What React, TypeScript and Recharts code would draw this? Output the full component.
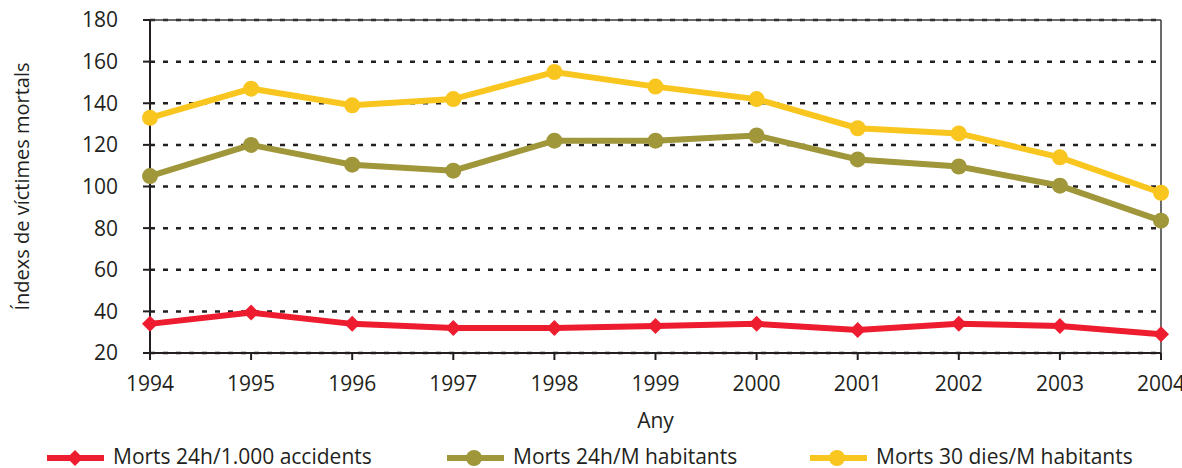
import { LineChart, Line, XAxis, YAxis, CartesianGrid, ReferenceLine, Legend } from 'recharts';

const years = ['1994', '1995', '1996', '1997', '1998', '1999', '2000', '2001', '2002', '2003', '2004'];
const deathsPerAccidents = [34, 39.4, 34, 32, 32, 33, 34, 31, 34, 33, 29];
const deaths24hPerMillion = [105, 120, 110.5, 107.6, 122, 122, 124.5, 113, 109.6, 100.4, 83.6];
const deaths30dPerMillion = [133, 147, 139, 142, 155, 148, 142, 128, 125.5, 114, 97];
const yTicks = [20, 40, 60, 80, 100, 120, 140, 160, 180];

const data = years.map((year, i) => ({
  year,
  accidents: deathsPerAccidents[i],
  habitants24: deaths24hPerMillion[i],
  habitants30: deaths30dPerMillion[i],
}));

const RED = '#ED1C2E';
const OLIVE = '#A0963A';
const YELLOW = '#F9C61F';
const INK = '#231F20';
const FONT = '"Open Sans", sans-serif';
const FS = 21;

const Diamond = (props: any) => {
  const { cx, cy, index, fill } = props;
  const s = 8;
  return (
    <path
      key={`d-${index}`}
      d={`M${cx},${cy - s} L${cx + s},${cy} L${cx},${cy + s} L${cx - s},${cy} Z`}
      fill={fill || RED}
    />
  );
};

const legendItems = [
  { label: 'Morts 24h/1.000 accidents', color: RED, shape: 'diamond', left: 47 },
  { label: 'Morts 24h/M habitants', color: OLIVE, shape: 'circle', left: 447 },
  { label: 'Morts 30 dies/M habitants', color: YELLOW, shape: 'circle', left: 810 },
];

// legend box runs from y=444 to the bottom edge of the picture
function ChartLegend() {
  return (
    <div style={{ position: 'relative', width: 1182, height: 24 }}>
      {legendItems.map((it) => (
        <div key={it.label} style={{ position: 'absolute', left: it.left, top: 0, height: 24 }}>
          <svg width={58} height={24} style={{ position: 'absolute', left: 0, top: 2 }}>
            <line x1={0} y1={12} x2={57} y2={12} stroke={it.color} strokeWidth={6} />
            {it.shape === 'diamond' ? (
              <path d="M28,4 L36,12 L28,20 L20,12 Z" fill={it.color} />
            ) : (
              <circle cx={27} cy={12} r={8} fill={it.color} />
            )}
          </svg>
          <span
            style={{
              position: 'absolute',
              left: 66,
              top: 0,
              fontFamily: FONT,
              fontSize: FS,
              lineHeight: '24px',
              color: INK,
              whiteSpace: 'nowrap',
            }}
          >
            {it.label}
          </span>
        </div>
      ))}
    </div>
  );
}

export default function App() {
  return (
    <div style={{ position: 'absolute', left: 0, top: 0, width: 1182, height: 468, background: '#fff' }}>
      <LineChart width={1182} height={468} data={data} margin={{ top: 20, right: 21, left: 0, bottom: 0 }}>
        <CartesianGrid vertical={false} stroke={INK} strokeWidth={2.5} strokeDasharray="5 8" />
        <XAxis
          dataKey="year"
          height={91}
          tickSize={7}
          tickMargin={16}
          tick={{ fill: INK, fontSize: FS, fontFamily: FONT }}
          axisLine={{ stroke: INK, strokeWidth: 2 }}
          tickLine={{ stroke: INK, strokeWidth: 2 }}
          label={{ value: 'Any', position: 'insideBottom', offset: 16, fill: INK, fontSize: FS, fontFamily: FONT }}
        />
        <YAxis
          width={150}
          domain={[20, 180]}
          ticks={yTicks}
          interval={0}
          tickSize={7}
          tickMargin={25}
          tick={{ fill: INK, fontSize: FS, fontFamily: FONT }}
          axisLine={{ stroke: INK, strokeWidth: 2 }}
          tickLine={{ stroke: INK, strokeWidth: 2 }}
          label={{
            value: 'Índexs de víctimes mortals',
            angle: -90,
            position: 'center',
            dx: -53,
            fill: INK,
            fontSize: 20,
            fontFamily: FONT,
          }}
        />
        <ReferenceLine y={180} stroke="#3a3a3a" strokeWidth={1.5} />
        <ReferenceLine x="2004" stroke="#3a3a3a" strokeWidth={1.5} />
        <Legend
          verticalAlign="bottom"
          content={() => <ChartLegend />}
          wrapperStyle={{ top: 444, left: 0, width: 1182, height: 24 }}
        />
        <Line
          type="linear"
          dataKey="accidents"
          stroke={RED}
          strokeWidth={6}
          dot={(p: any) => <Diamond {...p} fill={RED} />}
          activeDot={false}
          isAnimationActive={false}
        />
        <Line
          type="linear"
          dataKey="habitants24"
          stroke={OLIVE}
          strokeWidth={6}
          dot={{ r: 8, fill: OLIVE, stroke: 'none' }}
          activeDot={false}
          isAnimationActive={false}
        />
        <Line
          type="linear"
          dataKey="habitants30"
          stroke={YELLOW}
          strokeWidth={6}
          dot={{ r: 8, fill: YELLOW, stroke: 'none' }}
          activeDot={false}
          isAnimationActive={false}
        />
      </LineChart>
    </div>
  );
}
